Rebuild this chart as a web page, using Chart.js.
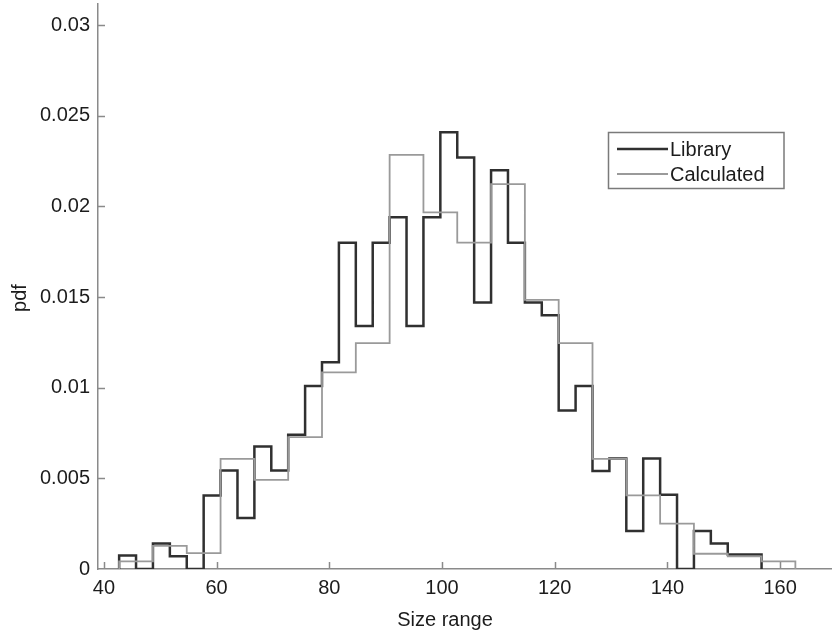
<!DOCTYPE html>
<html>
<head>
<meta charset="utf-8">
<script src="https://cdn.jsdelivr.net/npm/chart.js@4.4.1/dist/chart.umd.min.js"></script>
<style>
    body { margin: 0; background: #fff; }
    canvas { display: block; }
</style>
</head>
<body>
<canvas id="histChart" width="832" height="634"></canvas>
<script>
// Histogram data
const binStart = 42.7;
const libraryBinWidth = 3;
const calculatedBinWidth = 6;

const libraryValues = [
    0.00075, 0, 0.0014, 0.0007, 0, 0.00406, 0.00544, 0.00281, 0.00676, 0.00544,
    0.0074, 0.0101, 0.0114, 0.0180, 0.0134, 0.0180, 0.0194, 0.0134, 0.0194, 0.0241,
    0.0227, 0.0147, 0.0220, 0.0180, 0.0147, 0.0140, 0.00875, 0.0101, 0.0054, 0.0061,
    0.0021, 0.0061, 0.0041, 0, 0.0021, 0.0014, 0.0008, 0.0008
];

const calculatedValues = [
    0.00042, 0.00128, 0.00088, 0.00608, 0.00492, 0.00728, 0.01085, 0.01246, 0.02285, 0.01967,
    0.0180, 0.02123, 0.01485, 0.01246, 0.00608, 0.00406, 0.0025, 0.00084, 0.0007, 0.00042
];

const xTicks = [40, 60, 80, 100, 120, 140, 160];
const yTicks = [0, 0.005, 0.01, 0.015, 0.02, 0.025, 0.03];

const seriesNames = ['Library', 'Calculated'];
const seriesColors = ['#303030', '#9a9a9a'];

const FONT = '"Liberation Sans", Arial, Helvetica, sans-serif';
const TEXT_COLOR = '#1c1c1c';
const AXIS_COLOR = '#8a8a8a';

// turn bin heights into stair points (outline starts and ends on the baseline)
function stairs(values, start, width) {
    const points = [{ x: start, y: 0 }];
    values.forEach((v, i) => points.push({ x: start + i * width, y: v }));
    points.push({ x: start + values.length * width, y: 0 });
    return points;
}

// inward tick marks, axis titles and the boxed legend
const decorations = {
    id: 'decorations',
    afterDraw(chart) {
        const ctx = chart.ctx;
        const area = chart.chartArea;
        const xs = chart.scales.x;
        const ys = chart.scales.y;

        ctx.save();
        ctx.strokeStyle = AXIS_COLOR;
        ctx.lineWidth = 1.5;
        ctx.beginPath();
        xTicks.forEach(v => {
            const px = Math.round(xs.getPixelForValue(v)) + 0.5;
            ctx.moveTo(px, area.bottom);
            ctx.lineTo(px, area.bottom - 7);
        });
        yTicks.forEach(v => {
            if (v === 0) return;
            const py = Math.round(ys.getPixelForValue(v)) + 0.5;
            ctx.moveTo(area.left, py);
            ctx.lineTo(area.left + 7, py);
        });
        ctx.stroke();

        // axis titles
        ctx.fillStyle = TEXT_COLOR;
        ctx.font = '20px ' + FONT;
        ctx.textAlign = 'center';
        ctx.textBaseline = 'middle';
        ctx.fillText('Size range', 445, 620);

        ctx.save();
        ctx.translate(20, 298);
        ctx.rotate(-Math.PI / 2);
        ctx.fillText('pdf', 0, 0);
        ctx.restore();

        // legend
        const box = { x: 608.5, y: 132.5, w: 175.5, h: 56 };
        ctx.fillStyle = '#fff';
        ctx.fillRect(box.x, box.y, box.w, box.h);
        ctx.strokeStyle = '#7a7a7a';
        ctx.lineWidth = 1.5;
        ctx.strokeRect(box.x, box.y, box.w, box.h);

        const rows = [149, 174];
        seriesNames.forEach((name, i) => {
            ctx.strokeStyle = seriesColors[i];
            ctx.lineWidth = i === 0 ? 2.5 : 1.8;
            ctx.beginPath();
            ctx.moveTo(617, rows[i]);
            ctx.lineTo(668, rows[i]);
            ctx.stroke();
            ctx.fillStyle = TEXT_COLOR;
            ctx.textAlign = 'left';
            ctx.fillText(name, 670, rows[i] + 1);
        });
        ctx.restore();
    }
};

const ctx = document.getElementById('histChart');
new Chart(ctx, {
    type: 'line',
    data: {
        datasets: [
            {
                label: seriesNames[0],
                data: stairs(libraryValues, binStart, libraryBinWidth),
                borderColor: seriesColors[0],
                borderWidth: 2.5,
                stepped: 'before',
                pointRadius: 0,
                fill: false,
                order: 1
            },
            {
                label: seriesNames[1],
                data: stairs(calculatedValues, binStart, calculatedBinWidth),
                borderColor: seriesColors[1],
                borderWidth: 1.8,
                stepped: 'before',
                pointRadius: 0,
                fill: false,
                order: 0
            }
        ]
    },
    options: {
        responsive: false,
        animation: false,
        layout: { padding: { top: 4, right: 0, left: 0, bottom: 0 } },
        plugins: {
            legend: { display: false },
            tooltip: { enabled: false }
        },
        scales: {
            x: {
                type: 'linear',
                min: 38.95,
                max: 169.2,
                afterFit(scale) {
                    scale.height = 65;
                    scale.paddingLeft = 0;
                    scale.paddingRight = 0;
                },
                afterBuildTicks(scale) { scale.ticks = xTicks.map(v => ({ value: v })); },
                grid: { display: true, drawOnChartArea: false, drawTicks: false },
                border: { display: true, color: AXIS_COLOR, width: 1.5 },
                ticks: {
                    padding: 7,
                    color: TEXT_COLOR,
                    font: { family: FONT, size: 20 },
                    maxRotation: 0,
                    autoSkip: false,
                    callback: v => String(v)
                }
            },
            y: {
                type: 'linear',
                min: 0,
                max: 0.03117,
                afterFit(scale) {
                    scale.width = 98;
                    scale.paddingTop = 0;
                    scale.paddingBottom = 0;
                },
                afterBuildTicks(scale) { scale.ticks = yTicks.map(v => ({ value: v })); },
                grid: { display: true, drawOnChartArea: false, drawTicks: false },
                border: { display: true, color: AXIS_COLOR, width: 1.5 },
                ticks: {
                    padding: 8,
                    color: TEXT_COLOR,
                    font: { family: FONT, size: 20 },
                    autoSkip: false,
                    callback: v => String(+v.toFixed(3))
                }
            }
        }
    },
    plugins: [decorations]
});
</script>
</body>
</html>
